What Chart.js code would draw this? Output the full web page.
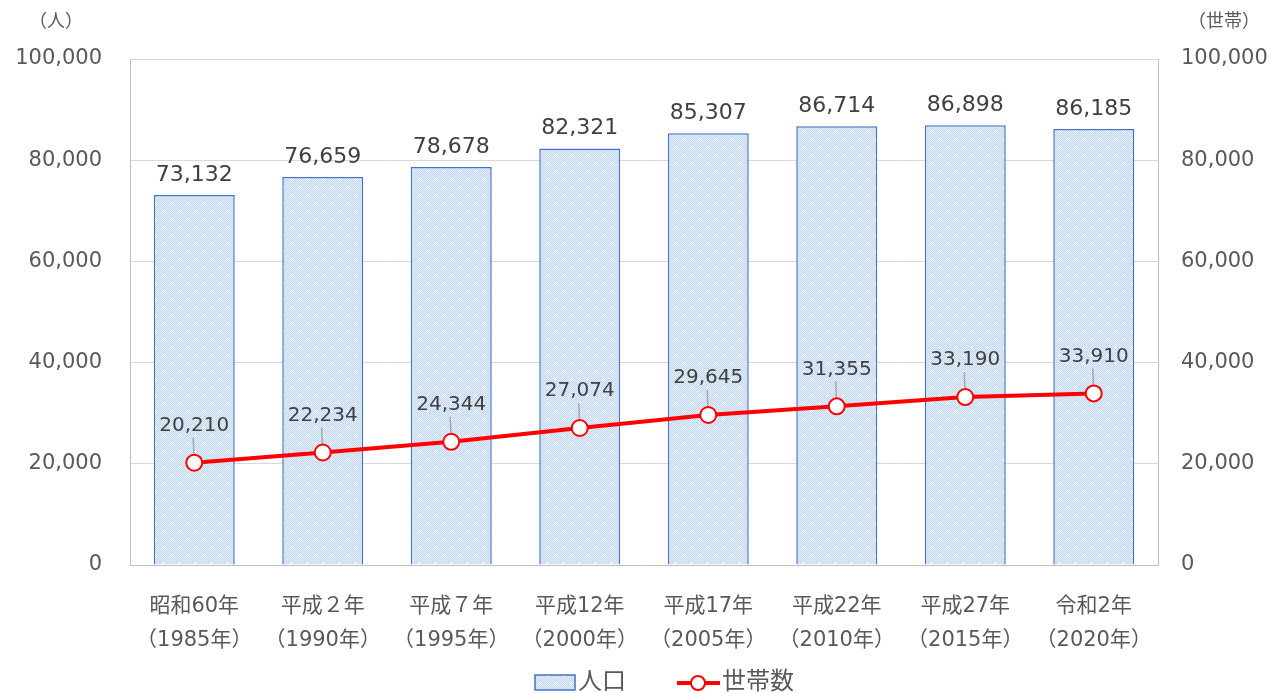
<!DOCTYPE html>
<html>
<head>
<meta charset="utf-8">
<script src="https://cdn.jsdelivr.net/npm/chart.js@4.4.0/dist/chart.umd.min.js"></script>
<style>
	html, body { margin: 0; padding: 0; background: #fff; }
	#wrap { width: 1273px; height: 693px; }
</style>
</head>
<body>
<div id="wrap"><canvas id="pop-chart" width="1273" height="693"></canvas></div>
<script>
// data
const eras = ['昭和60年', '平成２年', '平成７年', '平成12年', '平成17年', '平成22年', '平成27年', '令和2年'];
const years = ['（1985年）', '（1990年）', '（1995年）', '（2000年）', '（2005年）', '（2010年）', '（2015年）', '（2020年）'];
const population = [73132, 76659, 78678, 82321, 85307, 86714, 86898, 86185];
const households = [20210, 22234, 24344, 27074, 29645, 31355, 33190, 33910];

const FONT = "'DejaVu Sans', 'Noto Sans CJK JP', sans-serif";
const TXT = '#595959';

// light blue dotted fill with small white crosses
function makePattern() {
	const c = document.createElement('canvas');
	c.width = 16; c.height = 16;
	const g = c.getContext('2d');
	g.fillStyle = '#e2edf9';
	g.fillRect(0, 0, 16, 16);
	g.fillStyle = '#c4d8ef';
	for (let y = 0; y < 16; y++) {
		for (let x = 0; x < 16; x++) {
			if ((x + y) % 2 === 0) g.fillRect(x, y, 1, 1);
		}
	}
	g.fillStyle = '#ffffff';
	[[3, 3], [11, 11]].forEach(p => {
		g.fillRect(p[0] - 1, p[1], 3, 1);
		g.fillRect(p[0], p[1] - 1, 1, 3);
	});
	return g.createPattern(c, 'repeat');
}

const fmt = v => v.toLocaleString('en-US');

// value labels, axis units and legend
const extras = {
	id: 'extras',
	afterDatasetDraw(chart, args) {
		// leader lines: over the bars, under the line points
		if (args.index !== 0) return;
		const ctx = chart.ctx;
		ctx.save();
		ctx.strokeStyle = '#a6a6a6';
		ctx.lineWidth = 1.5;
		chart.getDatasetMeta(1).data.forEach(pt => {
			ctx.beginPath();
			ctx.moveTo(pt.x - 1, pt.y - 25);
			ctx.lineTo(pt.x, pt.y);
			ctx.stroke();
		});
		ctx.restore();
	},
	afterDatasetsDraw(chart) {
		const ctx = chart.ctx;
		ctx.save();
		ctx.textAlign = 'center';
		ctx.textBaseline = 'middle';
		ctx.fillStyle = '#404040';
		ctx.font = '22px ' + FONT;
		chart.getDatasetMeta(0).data.forEach((bar, i) => {
			ctx.fillText(fmt(population[i]), bar.x, bar.y - 20);
		});
		ctx.font = '20px ' + FONT;
		chart.getDatasetMeta(1).data.forEach((pt, i) => {
			ctx.fillText(fmt(households[i]), pt.x, pt.y - 37);
		});
		ctx.restore();
	},
	afterDraw(chart) {
		const ctx = chart.ctx;
		ctx.save();
		ctx.fillStyle = TXT;
		ctx.textBaseline = 'middle';
		ctx.textAlign = 'center';
		ctx.font = '18px ' + FONT;
		ctx.fillText('（人）', 56, 22);
		ctx.fillText('（世帯）', 1224, 22);

		// legend
		ctx.fillStyle = chart.data.datasets[0].backgroundColor;
		ctx.fillRect(535, 675, 40, 15);
		ctx.strokeStyle = '#4472c4';
		ctx.lineWidth = 1.5;
		ctx.strokeRect(535, 675, 40, 15);
		ctx.fillStyle = TXT;
		ctx.textAlign = 'left';
		ctx.font = '24px ' + FONT;
		ctx.fillText('人口', 578, 683);
		ctx.strokeStyle = '#ff0000';
		ctx.lineWidth = 4;
		ctx.beginPath();
		ctx.moveTo(677, 683);
		ctx.lineTo(720, 683);
		ctx.stroke();
		ctx.fillStyle = '#fff';
		ctx.lineWidth = 2;
		ctx.beginPath();
		ctx.arc(698, 683, 7, 0, Math.PI * 2);
		ctx.fill();
		ctx.stroke();
		ctx.fillStyle = TXT;
		ctx.fillText('世帯数', 722, 683);
		ctx.restore();
	}
};

const data = {
	labels: eras.map((e, i) => [e, years[i]]),
	datasets: [{
		type: 'bar',
		label: '人口',
		data: population,
		yAxisID: 'y',
		backgroundColor: makePattern(),
		borderColor: '#4472c4',
		borderWidth: 1.5,
		categoryPercentage: 1,
		barPercentage: 0.63,
		order: 2
	},
	{
		type: 'line',
		label: '世帯数',
		data: households,
		yAxisID: 'y1',
		borderColor: '#ff0000',
		borderWidth: 4,
		pointRadius: 8,
		pointBorderWidth: 2,
		pointBackgroundColor: '#ffffff',
		pointBorderColor: '#ff0000',
		tension: 0,
		order: 1
	}]
};

const config = {
	data,
	options: {
		responsive: false,
		animation: false,
		layout: { padding: { top: 59, right: 0, left: 0, bottom: 0 } },
		plugins: {
			legend: { display: false },
			tooltip: { enabled: false }
		},
		scales: {
			x: {
				grid: { display: false },
				border: { color: '#bfbfbf' },
				ticks: {
					color: TXT,
					font: { family: FONT, size: 21, lineHeight: 1.65 },
					padding: 16,
					maxRotation: 0,
					autoSkip: false
				},
				afterFit: s => { s.height = 128; }
			},
			y: {
				position: 'left',
				min: 0,
				max: 100000,
				ticks: {
					stepSize: 20000,
					color: TXT,
					font: { family: FONT, size: 21 },
					padding: 28,
					callback: v => fmt(v)
				},
				grid: { color: '#d9d9d9', drawTicks: false },
				border: { color: '#bfbfbf' },
				afterFit: s => { s.width = 130; }
			},
			y1: {
				position: 'right',
				min: 0,
				max: 100000,
				ticks: {
					stepSize: 20000,
					color: TXT,
					font: { family: FONT, size: 21 },
					padding: 23,
					callback: v => fmt(v)
				},
				grid: { drawOnChartArea: false, drawTicks: false },
				border: { color: '#bfbfbf' },
				afterFit: s => { s.width = 115; }
			}
		}
	},
	plugins: [extras]
};

const myChart = new Chart(document.getElementById('pop-chart'), config);
</script>
</body>
</html>
